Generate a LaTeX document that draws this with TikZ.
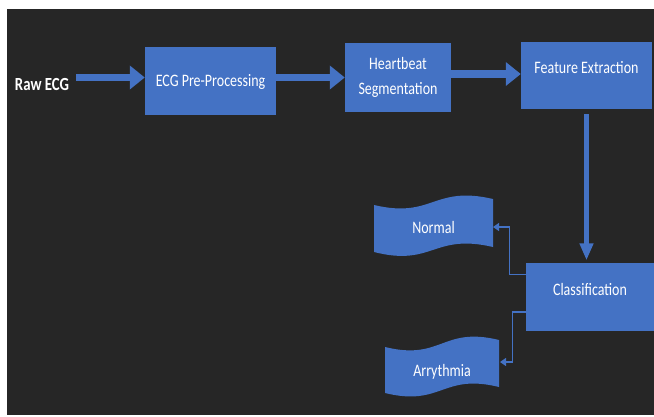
\documentclass[tikz,border=0pt]{standalone}
\usepackage{fontspec}
\setmainfont{Carlito}[FakeStretch=0.8]
\usetikzlibrary{arrows.meta}
\definecolor{bg}{HTML}{262626}
\definecolor{boxblue}{HTML}{4472C4}
\newcommand\rb[2]{\raisebox{#1}[0pt][0pt]{#2}}
\begin{document}
\begin{tikzpicture}[x=1pt,y=-1pt,
  box/.style={draw=none, fill=boxblue, text=white, font=\fontsize{17.5}{25}\selectfont, align=center, inner sep=0pt},
  lbl/.style={text=white, font=\fontsize{17.5}{25}\selectfont, inner sep=0pt},
  bigarrow/.style={draw=boxblue, line width=7.5pt, -{Triangle[length=15pt,width=23pt]}},
  vertarrow/.style={draw=boxblue, line width=4.7pt, -{Triangle[length=17pt,width=13pt]}},
  thinarrow/.style={draw=boxblue, line width=1.2pt, -{Triangle[length=6pt,width=8pt]}},
  tape/.style={fill=boxblue}
]
\useasboundingbox (0,0) rectangle (654,416);
\fill[white] (0,0) rectangle (654,416);
\fill[bg] (6.5,9) rectangle (654,415);

% process boxes
\node[text=white, inner sep=0pt, font=\bfseries\fontsize{18.5}{20}\selectfont] (raw) at (42,85) {\rb{-5.9pt}{Raw ECG}};
\node[box, minimum width=131pt, minimum height=68pt] (pre) at (210.5,81) {\rb{-5.6pt}{ECG Pre-Processing}};
\node[box, minimum width=106pt, minimum height=69pt] (hb) at (398,77.5) {Heartbeat\\Segmentation};
\node[box, minimum width=131pt, minimum height=67pt] (fe) at (586.5,75.5) {\rb{1.9pt}{Feature Extraction}};
\node[box, minimum width=128pt, minimum height=68pt] (cls) at (590,297) {\rb{1.9pt}{Classification}};

% output tapes
\fill[tape] (374,205) .. controls (433,219) and (433,185) .. (493,199) -- (493,247)
  .. controls (433,233) and (433,267) .. (374,252) -- cycle;
\fill[tape] (385,347) .. controls (442,361) and (442,326) .. (499,340) -- (499,387)
  .. controls (442,373) and (442,407) .. (385,393) -- cycle;
\node[lbl] (normal) at (433.5,228) {\rb{-5.6pt}{Normal}};
\node[lbl] (arr) at (442,371) {\rb{-5.6pt}{Arrythmia}};
\coordinate (normalR) at (493,227);
\coordinate (arrR) at (500,362);

% connectors
\draw[bigarrow] ([shift={(7,-7.5)}]raw.east) -- ([yshift=3.5pt]pre.west);
\draw[bigarrow] (pre.east |- hb.west) -- (hb.west);
\coordinate (a3) at ([yshift=1.5pt]fe.west);
\draw[bigarrow] (a3 -| hb.east) -- (a3);
\draw[vertarrow, shorten >=2.5pt] ([yshift=-5pt]fe.south) -- (fe.south |- cls.north);
\draw[thinarrow] ([yshift=22.5pt]cls.west) -- ++(-16,0) |- (normalR);
\draw[thinarrow] ([yshift=-15pt]cls.west) -- ++(-13.5,0) |- (arrR);
\end{tikzpicture}
\end{document}
